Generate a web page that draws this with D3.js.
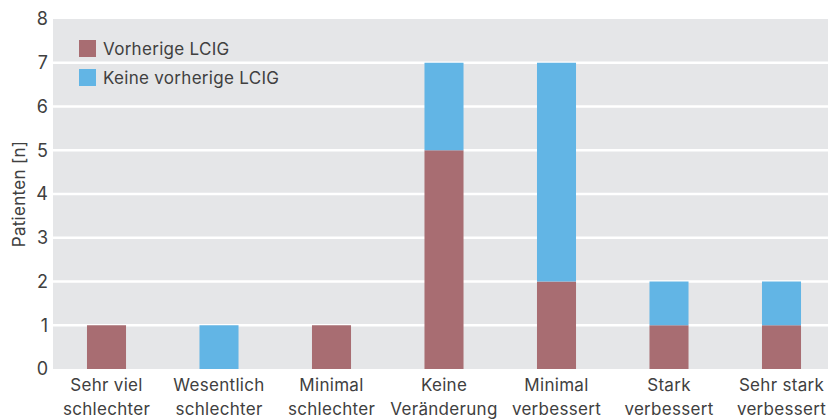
<!DOCTYPE html>
<html>
<head>
<meta charset="utf-8">
<script src="https://cdn.jsdelivr.net/npm/d3@7/dist/d3.min.js"></script>
<style>
  html, body { margin: 0; padding: 0; background: #fff; }
  svg { display: block; font-family: Inter, Roboto, sans-serif; }
</style>
</head>
<body>
<svg id="chart" width="828" height="419"></svg>
<script>
// Veränderung nach Behandlung, gestapelt nach LCIG-Vorbehandlung
const categories = [
  ["Sehr viel", "schlechter"],
  ["Wesentlich", "schlechter"],
  ["Minimal", "schlechter"],
  ["Keine", "Veränderung"],
  ["Minimal", "verbessert"],
  ["Stark", "verbessert"],
  ["Sehr stark", "verbessert"]
];
const seriesNames = ["Vorherige LCIG", "Keine vorherige LCIG"];
const vorherige = [1, 0, 1, 5, 2, 1, 1];
const keineVorherige = [0, 1, 0, 2, 5, 1, 1];
const yTicks = [0, 1, 2, 3, 4, 5, 6, 7, 8];
const colors = ["#a86d72", "#62b5e5"];

const FONT = "Inter, Roboto, sans-serif";
const TEXT = "#404040";
const SPACING = "0.3px";

const svg = d3.select("#chart");
const plot = { left: 53, right: 828, top: 19, bottom: 369 };

const keys = categories.map((c, i) => i);
const x = d3.scaleBand()
  .domain(keys)
  .range([50.25, 837.75])
  .paddingInner(0.653)
  .paddingOuter(0.3265);

const y = d3.scaleLinear().domain([0, 8]).range([plot.bottom, plot.top]);

// Hintergrund der Zeichenfläche
svg.append("rect")
  .attr("x", plot.left).attr("y", plot.top)
  .attr("width", plot.right - plot.left)
  .attr("height", plot.bottom - plot.top)
  .attr("fill", "#e5e6e8");

// Gitterlinien
svg.append("g")
  .selectAll("line")
  .data(yTicks.filter(t => t > 0 && t < 8))
  .join("line")
  .attr("x1", plot.left).attr("x2", plot.right)
  .attr("y1", d => y(d)).attr("y2", d => y(d))
  .attr("stroke", "#ffffff")
  .attr("stroke-width", 2.5);

// Gestapelte Balken
const rows = keys.map(i => ({ idx: i, s0: vorherige[i], s1: keineVorherige[i] }));
const layers = d3.stack().keys(["s0", "s1"])(rows);

svg.append("g")
  .selectAll("g")
  .data(layers)
  .join("g")
  .attr("fill", (d, i) => colors[i])
  .selectAll("rect")
  .data(d => d.filter(p => p[1] > p[0]))
  .join("rect")
  .attr("x", d => x(d.data.idx))
  .attr("width", x.bandwidth())
  .attr("y", d => y(d[1]))
  .attr("height", d => y(d[0]) - y(d[1]));

// Y-Achse
const yAxis = d3.axisLeft(y).tickValues(yTicks).tickSize(0).tickPadding(5)
  .tickFormat(d3.format("d"));
const yg = svg.append("g")
  .attr("transform", `translate(${plot.left},0)`)
  .call(yAxis);
yg.select(".domain").remove();
yg.selectAll("text")
  .attr("fill", TEXT)
  .style("font-size", "18px")
  .style("font-family", FONT);

// X-Achse (zweizeilige Beschriftungen)
svg.append("g")
  .selectAll("text")
  .data(keys)
  .join("text")
  .attr("text-anchor", "middle")
  .attr("fill", TEXT)
  .style("font-size", "17px")
  .style("letter-spacing", SPACING)
  .each(function(d) {
    const t = d3.select(this);
    categories[d].forEach((line, li) => {
      t.append("tspan")
        .attr("x", x(d) + x.bandwidth() / 2)
        .attr("y", 390.5 + li * 24.5)
        .text(line);
    });
  });

// Achsentitel
svg.append("text")
  .attr("transform", `translate(25,${(plot.top + plot.bottom) / 2}) rotate(-90)`)
  .attr("text-anchor", "middle")
  .attr("fill", TEXT)
  .style("font-size", "17px")
  .style("letter-spacing", SPACING)
  .text("Patienten [n]");

// Legende
const legend = svg.append("g");
seriesNames.forEach((name, i) => {
  const g = legend.append("g").attr("transform", `translate(79,${40 + i * 29})`);
  g.append("rect").attr("width", 17).attr("height", 17).attr("fill", colors[i]);
  g.append("text")
    .attr("x", 24).attr("y", 14.5)
    .attr("fill", TEXT)
    .style("font-size", "17px")
    .style("letter-spacing", SPACING)
    .text(name);
});
</script>
</body>
</html>
